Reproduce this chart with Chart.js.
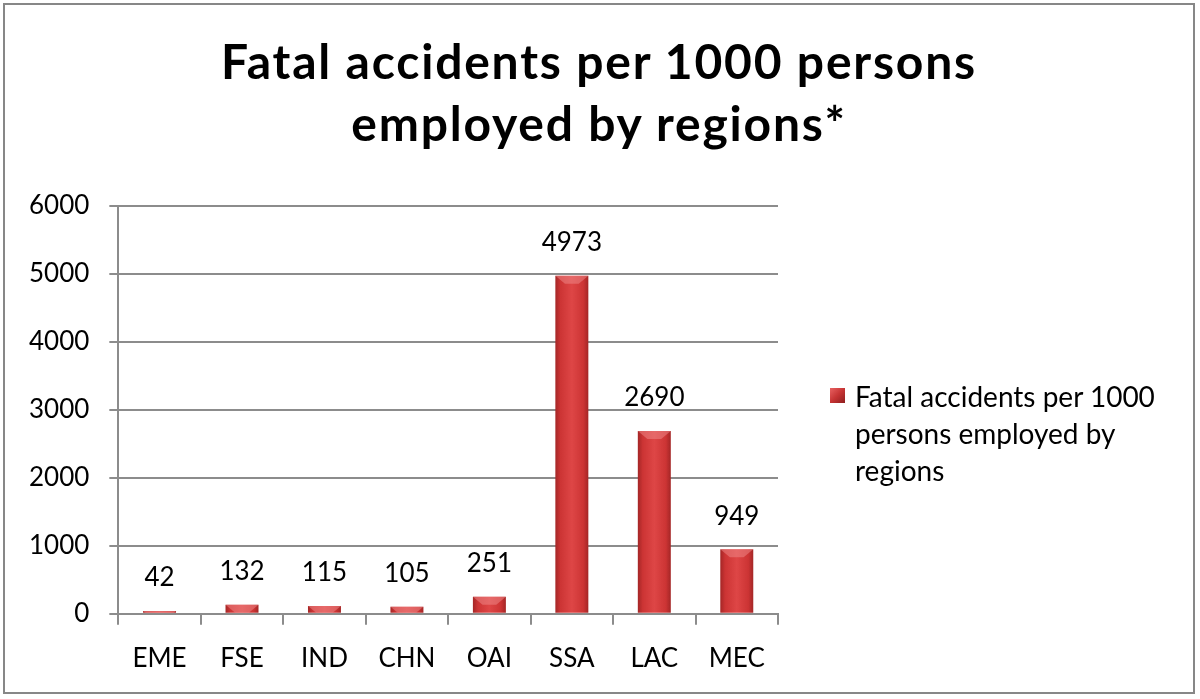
<!DOCTYPE html>
<html>
<head>
<meta charset="utf-8">
<script src="https://cdn.jsdelivr.net/npm/chart.js@4"></script>
<style>
  body { margin: 0; background: #fff; }
  #frame { position: absolute; left: 3px; top: 3px; width: 1192px; height: 691px; box-sizing: border-box; border: 2px solid #878787; background: #fff; }
  #chart { position: absolute; left: 0; top: 0; }
  #title { position: absolute; left: 0; width: 1188px; top: 25px; text-align: center; font-family: Lato, sans-serif; font-weight: bold; font-size: 48px; line-height: 62px; letter-spacing: 1.8px; color: #000; }
  #swatch { position: absolute; left: 825px; top: 383px; width: 15px; height: 15px; background: linear-gradient(135deg, #e86262 0%, #c63434 50%, #8e1e1e 100%); }
  #legendText { position: absolute; left: 850px; top: 373px; font-family: Lato, sans-serif; font-size: 28px; line-height: 37px; color: #000; }
</style>
</head>
<body>
<div id="frame">
  <canvas id="chart" width="1188" height="687"></canvas>
  <div id="title"></div>
  <div id="swatch"></div>
  <div id="legendText"></div>
</div>
<script>
const regions = ['EME', 'FSE', 'IND', 'CHN', 'OAI', 'SSA', 'LAC', 'MEC'];
const fatalities = [42, 132, 115, 105, 251, 4973, 2690, 949];
const titleLines = ['Fatal accidents per 1000 persons', 'employed by regions*'];
const legendLines = ['Fatal accidents per 1000', 'persons employed by', 'regions'];
const seriesName = legendLines.join(' ');

document.getElementById('title').innerHTML = titleLines.join('<br>');
document.getElementById('legendText').innerHTML = legendLines.join('<br>');

const gridGray = '#8c8c8c';
const barPct = 0.4;

// each bar gets its own horizontal gradient (rounded look)
function barGradient(context) {
    const chart = context.chart;
    const xs = chart.scales.x;
    if (!xs || context.dataIndex === undefined) return '#d43c3c';
    const cx = xs.getPixelForValue(context.dataIndex);
    const w = xs.width / regions.length * barPct;
    if (!isFinite(cx) || !isFinite(w) || w <= 0) return '#d43c3c';
    const g = chart.ctx.createLinearGradient(cx - w / 2, 0, cx + w / 2, 0);
    g.addColorStop(0, '#a42626');
    g.addColorStop(0.15, '#cc3434');
    g.addColorStop(0.5, '#de4646');
    g.addColorStop(0.85, '#cc3434');
    g.addColorStop(1, '#a42626');
    return g;
}

// light bevel on the top of each bar + value labels
const barExtras = {
    id: 'barExtras',
    afterDatasetsDraw(chart) {
        const c = chart.ctx;
        c.save();
        chart.getDatasetMeta(0).data.forEach((el, i) => {
            const l = el.x - el.width / 2, r = el.x + el.width / 2;
            const h = Math.min(8, el.base - el.y);
            c.fillStyle = 'rgba(240,140,140,0.5)';
            c.beginPath();
            c.moveTo(l, el.y);
            c.lineTo(r, el.y);
            c.lineTo(r - h * 1.2, el.y + h);
            c.lineTo(l + h * 1.2, el.y + h);
            c.closePath();
            c.fill();
        });
        c.font = '26px Lato, sans-serif';
        c.fillStyle = '#000';
        c.textAlign = 'center';
        c.textBaseline = 'middle';
        chart.getDatasetMeta(0).data.forEach((el, i) => {
            c.fillText(String(fatalities[i]), el.x, el.y - 33);
        });
        c.restore();
    }
};

new Chart(document.getElementById('chart'), {
    type: 'bar',
    data: {
        labels: regions,
        datasets: [{
            label: seriesName,
            data: fatalities,
            backgroundColor: barGradient,
            borderWidth: 0,
            categoryPercentage: 1,
            barPercentage: barPct
        }]
    },
    options: {
        responsive: false,
        animation: false,
        layout: { padding: { left: 4, right: 415, top: 201, bottom: 0 } },
        plugins: {
            legend: { display: false },
            tooltip: { enabled: false },
            title: { display: false }
        },
        scales: {
            x: {
                grid: { display: true, drawOnChartArea: false, drawTicks: true, tickLength: 11, color: gridGray, lineWidth: 2, offset: true },
                border: { color: gridGray, width: 2 },
                ticks: { color: '#000', font: { family: 'Lato, sans-serif', size: 26 }, padding: 18 }
            },
            y: {
                min: 0,
                max: 6000,
                ticks: { stepSize: 1000, color: '#000', font: { family: 'Lato, sans-serif', size: 26 }, padding: 20, callback: v => String(v) },
                grid: { color: gridGray, lineWidth: 2, tickLength: 9 },
                border: { color: gridGray, width: 2 }
            }
        }
    },
    plugins: [barExtras]
});
</script>
</body>
</html>
